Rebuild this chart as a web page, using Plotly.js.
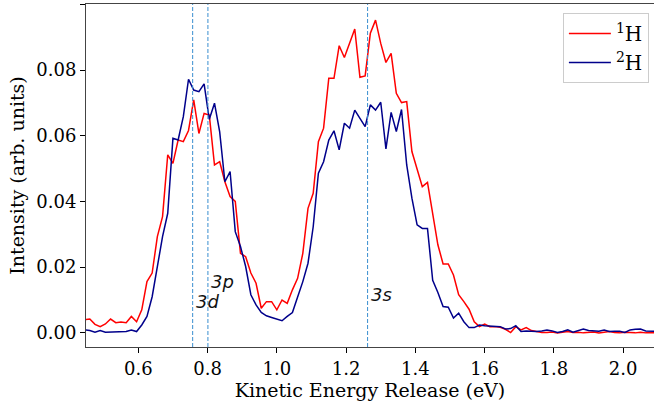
<!DOCTYPE html>
<html>
<head>
<meta charset="utf-8">
<script src="https://cdn.plot.ly/plotly-3.0.1.min.js"></script>
<style>html,body{margin:0;padding:0;background:#fff;}#chart{width:654px;height:407px;}</style>
</head>
<body>
<div id="chart"></div>
<script>
const kerEV = [0.445,0.46,0.475,0.49,0.505,0.52,0.535,0.55,0.565,0.58,0.595,0.61,0.625,0.64,0.655,0.67,0.685,0.7,0.715,0.73,0.745,0.76,0.775,0.79,0.805,0.82,0.835,0.85,0.865,0.88,0.895,0.91,0.925,0.94,0.955,0.97,0.985,1.0,1.015,1.03,1.045,1.06,1.075,1.09,1.105,1.12,1.135,1.15,1.165,1.18,1.195,1.21,1.225,1.24,1.255,1.27,1.285,1.3,1.315,1.33,1.345,1.36,1.375,1.39,1.405,1.42,1.435,1.45,1.465,1.48,1.495,1.51,1.525,1.54,1.555,1.57,1.585,1.6,1.615,1.63,1.645,1.66,1.675,1.69,1.705,1.72,1.735,1.75,1.765,1.78,1.795,1.81,1.825,1.84,1.855,1.87,1.885,1.9,1.915,1.93,1.945,1.96,1.975,1.99,2.005,2.02,2.035,2.05,2.065,2.08,2.095];

const intensityH1 = [0.0040,0.0042,0.0026,0.0019,0.0027,0.0042,0.0031,0.0033,0.0031,0.0050,0.0034,0.0070,0.0156,0.0182,0.0293,0.0354,0.0542,0.0516,0.0587,0.0582,0.0616,0.0709,0.0607,0.0668,0.0663,0.0511,0.0521,0.0460,0.0415,0.0400,0.0242,0.0232,0.0182,0.0151,0.0075,0.0095,0.0095,0.0070,0.0100,0.0090,0.0131,0.0166,0.0242,0.0379,0.0425,0.0582,0.0623,0.0775,0.0775,0.0874,0.0838,0.0881,0.0925,0.0778,0.0782,0.0912,0.0952,0.0881,0.0823,0.0851,0.0729,0.0701,0.0704,0.0552,0.0496,0.0445,0.0458,0.0364,0.0268,0.0210,0.0210,0.0176,0.0116,0.0095,0.0072,0.0034,0.0019,0.0027,0.0019,0.0019,0.0017,0.0011,0.0001,0.0019,0.0009,0.0016,0.0007,0.0004,0.0001,0.0001,0.0003,0.0000,0.0002,0.0004,0.0001,0.0002,0.0000,0.0001,0.0003,0.0000,0.0002,0.0004,0.0001,0.0000,0.0002,0.0001,0.0000,0.0002,0.0000,0.0001,0.0000];

const intensityH2 = [0.0009,0.0007,0.0002,0.0007,0.0002,0.0003,0.0004,0.0005,0.0004,0.0009,0.0004,0.0024,0.0050,0.0110,0.0202,0.0293,0.0364,0.0592,0.0587,0.0658,0.0772,0.0739,0.0734,0.0758,0.0650,0.0699,0.0612,0.0460,0.0491,0.0308,0.0263,0.0202,0.0116,0.0085,0.0062,0.0052,0.0047,0.0042,0.0037,0.0050,0.0062,0.0109,0.0156,0.0212,0.0323,0.0486,0.0521,0.0587,0.0615,0.0557,0.0638,0.0623,0.0678,0.0653,0.0628,0.0694,0.0678,0.0702,0.0560,0.0671,0.0613,0.0680,0.0511,0.0410,0.0329,0.0318,0.0318,0.0160,0.0123,0.0080,0.0078,0.0045,0.0060,0.0034,0.0016,0.0016,0.0024,0.0022,0.0021,0.0019,0.0019,0.0012,0.0013,0.0022,0.0004,0.0006,0.0004,0.0004,0.0006,0.0009,0.0006,0.0001,0.0004,0.0009,0.0002,0.0007,0.0012,0.0007,0.0006,0.0005,0.0009,0.0004,0.0005,0.0005,0.0001,0.0009,0.0011,0.0012,0.0006,0.0005,0.0005];

const seriesNames = ['<sup>1</sup>H', '<sup>2</sup>H'];
const stateLabels = ['3d', '3p', '3s'];
const stateEnergies = [0.757, 0.801, 1.262];
const stateLabelY = [0.0095, 0.0155, 0.0118];
const xTitle = 'Kinetic Energy Release (eV)';
const yTitle = 'Intensity (arb. units)';

const serif = 'DejaVu Serif, Liberation Serif, serif';

const traces = [
  {x: kerEV, y: intensityH1, type: 'scatter', mode: 'lines', name: seriesNames[0],
   line: {color: '#ff0000', width: 1.5}},
  {x: kerEV, y: intensityH2, type: 'scatter', mode: 'lines', name: seriesNames[1],
   line: {color: '#00008b', width: 1.5}}
];

const shapes = stateEnergies.map(e => ({
  type: 'line', xref: 'x', yref: 'paper', x0: e, x1: e, y0: 0, y1: 1,
  line: {color: '#3a8fd0', width: 1, dash: '4px,2px'}
}));

const annotations = stateLabels.map((s, i) => ({
  x: stateEnergies[i], y: stateLabelY[i], xref: 'x', yref: 'y',
  text: s, showarrow: false, xanchor: 'left', yanchor: 'middle', xshift: 1,
  font: {family: 'DejaVu Sans, sans-serif', size: 18, color: '#111', style: 'italic'}
}));

const layout = {
  width: 654, height: 407,
  margin: {l: 86, r: 0, t: 4, b: 60},
  paper_bgcolor: '#fff', plot_bgcolor: '#fff',
  showlegend: true,
  legend: {x: 0.991, y: 0.974, xanchor: 'right', yanchor: 'top',
    bgcolor: 'rgba(255,255,255,0.8)', bordercolor: '#cccccc', borderwidth: 1,
    itemwidth: 42,
    font: {family: serif, size: 20, color: '#000'}, tracegroupgap: 0},
  xaxis: {
    range: [0.449, 2.089], tick0: 0, dtick: 0.2, tickformat: '.1f',
    showgrid: false, zeroline: false, automargin: true,
    showline: true, linecolor: '#444', linewidth: 1, mirror: true,
    ticks: 'outside', ticklen: 5, tickwidth: 1, tickcolor: '#000',
    ticklabelstandoff: 0,
    tickfont: {family: serif, size: 18, color: '#000'},
    title: {text: xTitle, font: {family: serif, size: 19, color: '#000'}, standoff: 2}
  },
  yaxis: {
    range: [-0.0043, 0.1001], tick0: 0, dtick: 0.02, tickformat: '.2f',
    showgrid: false, zeroline: false,
    showline: true, linecolor: '#444', linewidth: 1, mirror: false,
    ticks: 'outside', ticklen: 5, tickwidth: 1, tickcolor: '#000',
    tickfont: {family: serif, size: 18, color: '#000'},
    title: {text: yTitle, font: {family: serif, size: 19, color: '#000'}, standoff: 6}
  },
  shapes: shapes,
  annotations: annotations
};

Plotly.newPlot('chart', traces, layout, {displayModeBar: false, staticPlot: true});
</script>
</body>
</html>
